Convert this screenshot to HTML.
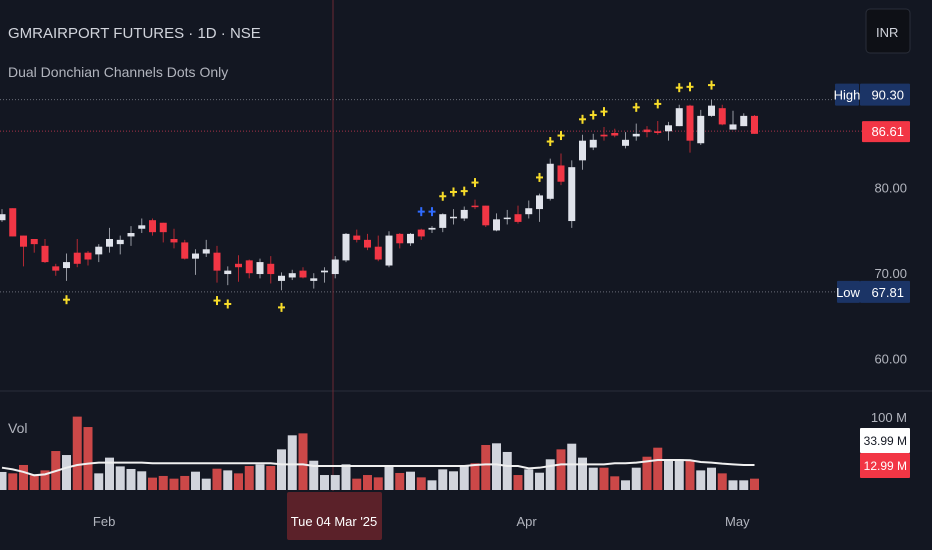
<!DOCTYPE html>
<html><head><meta charset="utf-8"><style>
html,body{margin:0;padding:0;background:#131722;}
body{width:932px;height:550px;overflow:hidden;position:relative;font-family:"Liberation Sans",sans-serif;}
svg{position:absolute;left:0;top:0;}
.t{font-family:"Liberation Sans",sans-serif;}
</style></head><body>
<svg id="chart" width="932" height="550" xmlns="http://www.w3.org/2000/svg">
<rect width="932" height="550" fill="#131722"/>
<line x1="0" y1="391" x2="932" y2="391" stroke="#2a2e39" stroke-width="1"/>
<g id="grid"></g>
<line x1="333" y1="0" x2="333" y2="491" stroke="#6b2a34" stroke-width="1"/>
<g id="vol"></g><g id="candles"></g><g id="dots"></g>
<text class="t" x="8" y="38" fill="#d1d4dc" font-size="15">GMRAIRPORT FUTURES · 1D · NSE</text>
<text class="t" x="8" y="77" fill="#b2b5be" font-size="14">Dual Donchian Channels Dots Only</text>
<text class="t" x="8" y="433" fill="#b2b5be" font-size="14">Vol</text>
<rect x="866" y="9" width="44" height="44" rx="4" fill="#0e1016" stroke="#2a2e39"/>
<text class="t" x="876" y="37" fill="#d1d4dc" font-size="13">INR</text>
<g id="axis"></g>
<rect x="287" y="492" width="95" height="48" rx="2" fill="#5b2129"/>
<text class="t" x="334" y="526" fill="#ffffff" font-size="13" text-anchor="middle">Tue 04 Mar '25</text>
</svg>
<script>
const dates=["Feb","Apr","May"];
const dateIdx=[9.5,48.8,68.4];
const opens=[76.2,77.6,74.4,74.0,73.2,70.8,70.6,72.4,72.4,72.2,73.1,73.4,74.3,75.2,76.2,75.9,74.0,73.6,71.7,72.3,72.4,69.9,71.1,71.5,69.9,71.1,69.1,69.5,70.3,69.1,70.1,69.9,71.5,74.4,73.9,73.1,70.9,74.6,73.5,75.1,75.1,75.3,76.5,76.4,77.9,77.9,75.0,76.4,76.9,76.9,77.5,78.7,82.6,76.1,83.2,84.7,86.2,86.4,84.9,86.0,86.8,86.6,86.6,87.2,89.6,85.2,88.4,89.3,86.8,87.2,88.4];
const closes=[76.9,74.3,73.1,73.4,71.3,70.3,71.3,71.1,71.6,73.1,74.0,73.9,74.7,75.6,74.8,74.8,73.6,71.7,72.3,72.8,70.3,70.3,70.7,70.0,71.3,69.9,69.7,70.0,69.5,69.4,70.3,71.6,74.6,73.9,73.0,71.6,74.4,73.5,74.6,74.3,75.3,76.9,76.6,77.4,77.8,75.6,76.3,76.5,76.0,77.6,79.1,82.8,80.7,82.4,85.5,85.6,86.0,86.1,85.6,86.3,86.5,86.4,87.3,89.3,85.5,88.4,89.6,87.4,87.4,88.4,86.3];
const highs=[77.5,77.6,74.4,74.0,74.0,71.1,72.3,74.0,72.6,73.4,75.3,74.4,75.5,76.4,76.4,75.9,75.2,73.9,72.8,73.9,73.2,70.8,72.1,71.6,71.7,72.0,70.1,70.4,70.7,70.0,70.7,72.0,74.7,75.1,74.6,74.4,74.9,74.7,74.7,75.2,75.5,77.0,77.5,77.8,78.6,77.9,77.0,77.4,77.9,78.5,79.3,83.4,84.0,83.2,86.2,86.3,87.1,86.9,86.5,87.5,87.2,87.8,87.7,89.7,89.7,89.1,90.3,89.7,89.0,88.7,88.5];
const lows=[76.0,74.3,70.8,72.4,71.2,69.7,69.1,70.7,70.9,71.3,72.4,72.2,73.2,74.7,74.4,73.6,72.9,71.6,69.8,71.9,68.9,68.6,69.0,69.4,69.4,68.8,68.0,69.2,69.4,68.2,68.9,69.4,71.3,73.6,72.7,71.4,70.7,72.9,73.2,73.9,74.7,74.8,75.7,76.1,77.5,75.4,74.9,75.7,75.8,76.4,76.0,78.5,80.3,75.3,82.1,84.4,85.5,85.9,84.6,85.5,85.9,86.2,85.5,87.2,84.1,85.0,88.3,87.3,86.8,87.2,86.3];
const volumes=[19.4,17.9,26.9,15.8,21.1,41.9,37.6,78.9,67.7,17.9,34.8,25.4,22.6,20.1,13.3,15.1,12.2,15.1,19.7,12.2,22.9,21.1,17.9,25.8,27.6,25.8,43.7,58.8,60.9,31.5,16.1,16.1,27.6,12.2,16.1,13.6,25.8,18.3,19.7,13.6,10.4,22.2,20.1,25.8,28.7,48.4,50.2,40.9,16.1,22.2,18.6,33.0,43.7,49.8,34.8,24.0,24.0,14.7,10.4,24.0,35.8,45.5,33.0,33.0,31.2,21.1,24.0,17.9,10.4,10.4,12.2];
const volUp=[1,0,0,0,0,0,1,0,0,1,1,1,1,1,0,0,0,0,1,1,0,1,0,0,1,0,1,1,0,1,1,1,1,0,0,0,1,0,1,0,1,1,1,1,0,0,1,1,0,1,1,1,0,1,1,1,0,0,1,1,0,0,1,1,0,1,1,0,1,1,0];
const volMA=[24.0,22.2,19.4,15.8,16.8,20.4,24.0,26.9,28.3,29.4,29.4,29.4,29.4,29.4,28.7,28.7,28.7,28.7,28.7,28.7,28.7,28.7,28.7,28.7,28.7,28.7,27.6,27.6,27.6,25.8,25.8,25.8,25.8,25.8,25.8,25.8,25.8,25.8,25.8,25.8,25.8,25.8,25.8,25.8,26.9,27.6,27.6,25.8,25.8,23.3,24.0,25.8,27.6,27.6,27.6,27.6,27.6,28.7,28.7,29.4,30.8,32.3,32.3,32.3,32.0,30.1,29.4,28.3,27.6,26.9,26.9];
const dotIdx=[6,20,21,26,39,40,41,42,43,44,50,51,52,54,55,56,59,61,63,64,66];
const dotVals=[66.9,66.8,66.4,66.0,77.2,77.2,79.0,79.5,79.6,80.6,81.2,85.4,86.1,88.0,88.5,88.9,89.4,89.8,91.7,91.8,92.0];
const dotBlue=[0,0,0,0,1,1,0,0,0,0,0,0,0,0,0,0,0,0,0,0,0];
const priceTicks=[80,70,60];
const hiVal=90.30, loVal=67.81, lastVal=86.61;

const NS="http://www.w3.org/2000/svg";
const xOf=i=>2+i*10.75;
const yP=p=>187.7-(p-80)*8.55;
const volBase=490, yV=v=>volBase-v*0.93;
function mk(tag,attrs,parent){const e=document.createElementNS(NS,tag);for(const k in attrs)e.setAttribute(k,attrs[k]);parent.appendChild(e);return e;}
const grid=document.getElementById('grid'),cg=document.getElementById('candles'),vg=document.getElementById('vol'),dg=document.getElementById('dots'),ag=document.getElementById('axis');

let l=mk('line',{x1:0,x2:832,y1:yP(hiVal),y2:yP(hiVal),stroke:'#6a6d78','stroke-dasharray':'1,2'},grid);

l=mk('line',{x1:0,x2:862,y1:yP(loVal),y2:yP(loVal),stroke:'#6a6d78','stroke-dasharray':'1,2'},grid);

l=mk('line',{x1:0,x2:862,y1:yP(lastVal),y2:yP(lastVal),stroke:'#a8324a','stroke-dasharray':'1,2'},grid);


for(let i=0;i<opens.length;i++){
  const x=xOf(i),up=closes[i]>=opens[i],c=up?'#e0e3eb':'#f23645';
  const g=mk('g',{},cg);
  
  
  mk('line',{x1:x,x2:x,y1:yP(highs[i]),y2:yP(lows[i]),stroke:up?'#9598a1':'#b22833','stroke-width':1},g);
  const t=yP(Math.max(opens[i],closes[i])),b=yP(Math.min(opens[i],closes[i]));
  mk('rect',{x:x-3.5,y:t,width:7,height:Math.max(1.5,b-t),fill:c},g);
}
for(let i=0;i<volumes.length;i++){
  const r=mk('rect',{x:xOf(i)-4.5,y:yV(volumes[i]),width:9,height:volBase-yV(volumes[i]),fill:volUp[i]?'#d1d4dc':'#cc4848'},vg);
  
  
}
let d='';volMA.forEach((v,i)=>{d+=(i?'L':'M')+xOf(i)+','+yV(v);});
const ma=mk('path',{d:d,fill:'none',stroke:'#f0f0f0','stroke-width':2},vg);


for(let k=0;k<dotIdx.length;k++){
  const x=xOf(dotIdx[k]),y=yP(dotVals[k]),c=dotBlue[k]?'#2f6bff':'#f7dc2a';
  const g=mk('g',{stroke:c,'stroke-width':2},dg);
  
  
  mk('line',{x1:x-3.5,x2:x+3.5,y1:y,y2:y},g);mk('line',{x1:x,x2:x,y1:y-4.5,y2:y+4.5},g);
}
function txt(s,x,y,fill,size,anchor,name){const t=mk('text',{x:x,y:y,fill:fill,'font-size':size,'text-anchor':anchor||'start','class':'t'},ag);t.textContent=s;
  
  return t;}
priceTicks.forEach(p=>txt(p.toFixed(2),907,yP(p)+5,'#b2b5be',13,'end','price-tick'));
txt('100 M',907,422,'#b2b5be',13,'end','volume-tick');
dates.forEach((s,i)=>txt(s,xOf(dateIdx[i]),526,'#b2b5be',13,'middle','date-tick'));
function box(x,y,w,h,fill,name){const r=mk('rect',{x:x,y:y,width:w,height:h,fill:fill,rx:1},ag);
  
  }
box(835,yP(hiVal)-16,24,22,'#1b3466','high-tag');box(860,yP(hiVal)-16,50,22,'#1b3466','high-value-box');
txt('High',847,yP(hiVal)+0,'#ffffff',13,'middle','high-tag-text');txt(hiVal.toFixed(2),904,yP(hiVal),'#ffffff',13,'end','high-value');
box(862,yP(lastVal)-10,48,21,'#f23645','last-price-box');txt(lastVal.toFixed(2),904,yP(lastVal)+5,'#ffffff',13,'end','last-price-value');
box(837,yP(loVal)-11,23,22,'#1b3466','low-tag');box(860,yP(loVal)-11,50,22,'#1b3466','low-value-box');
txt('Low',848,yP(loVal)+5,'#ffffff',13,'middle','low-tag-text');txt(loVal.toFixed(2),904,yP(loVal)+5,'#ffffff',13,'end','low-value');
box(860,428,50,25,'#ffffff','volume-ma-box');txt('33.99 M',907,445,'#131722',12,'end','volume-ma-value');
box(860,453,50,25,'#f23645','volume-box');txt('12.99 M',907,470,'#ffffff',12,'end','volume-value');
</script>
</body></html>
